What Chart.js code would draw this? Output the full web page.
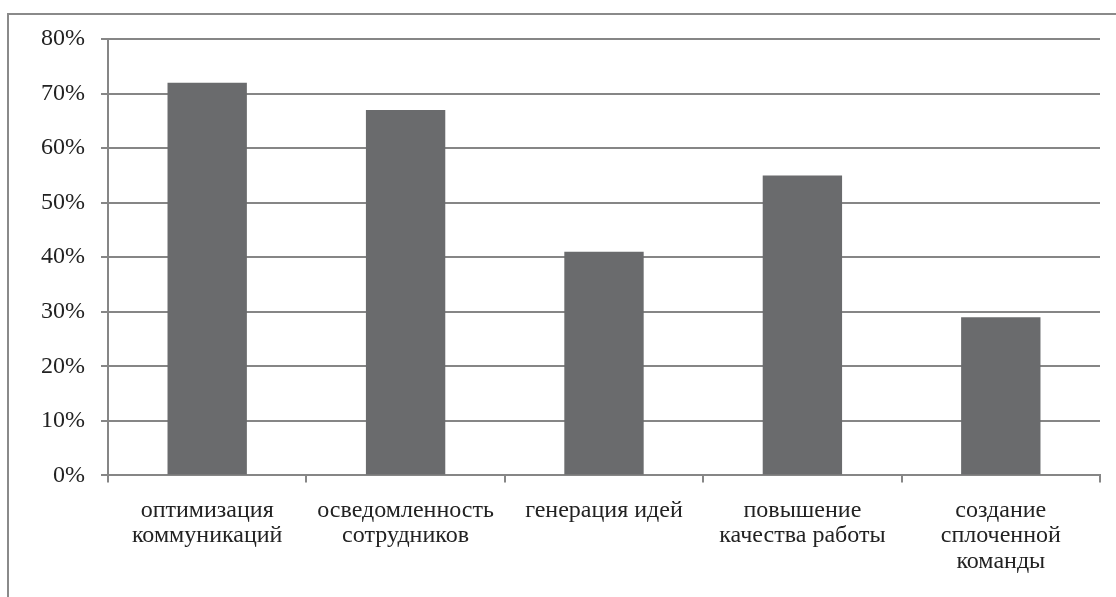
<!DOCTYPE html>
<html>
<head>
<meta charset="utf-8">
<script src="https://cdn.jsdelivr.net/npm/chart.js@4/dist/chart.umd.min.js"></script>
<style>
  html, body { margin: 0; padding: 0; background: #fff; }
  #wrap { position: absolute; left: 0; top: 0; width: 1116px; height: 597px; }
</style>
</head>
<body>
<div id="wrap"><canvas id="myChart" width="1116" height="597"></canvas></div>
<script>
// categories and values
let categories = [
  ['оптимизация', 'коммуникаций'],
  ['осведомленность', 'сотрудников'],
  ['генерация идей'],
  ['повышение', 'качества работы'],
  ['создание', 'сплоченной', 'команды']
];
let shares = [72, 67, 41, 55, 29];
let yTicks = [0, 10, 20, 30, 40, 50, 60, 70, 80];

// grey frame round the picture (left and top edges only are visible)
let framePlugin = {
  id: 'frame',
  beforeDraw(chart) {
    let ctx = chart.ctx;
    ctx.save();
    ctx.strokeStyle = '#8a8a8a';
    ctx.lineWidth = 2;
    ctx.beginPath();
    ctx.moveTo(8, 597);
    ctx.lineTo(8, 14);
    ctx.lineTo(1116, 14);
    ctx.stroke();
    ctx.restore();
  }
};

let serif = '"Liberation Serif", "Times New Roman", serif';

let ctx = document.getElementById('myChart').getContext('2d');
window.chart = new Chart(ctx, {
  type: 'bar',
  data: {
    labels: categories,
    datasets: [{
      data: shares,
      backgroundColor: '#6a6b6d',
      borderWidth: 0,
      categoryPercentage: 1,
      barPercentage: 0.4
    }]
  },
  options: {
    responsive: false,
    animation: false,
    layout: { padding: { left: 25, right: 16, top: 39, bottom: 7 } },
    plugins: { legend: { display: false }, tooltip: { enabled: false } },
    scales: {
      x: {
        offset: true,
        grid: {
          offset: true,
          drawOnChartArea: false,
          drawTicks: true,
          tickLength: 7,
          color: '#868686',
          lineWidth: 2
        },
        border: { color: '#868686', width: 2 },
        ticks: {
          color: '#222',
          padding: 16,
          maxRotation: 0,
          autoSkip: false,
          font: { family: serif, size: 24, lineHeight: 1.05 }
        }
      },
      y: {
        min: 0,
        max: 80,
        afterBuildTicks(axis) { axis.ticks = yTicks.map(v => ({ value: v })); },
        grid: {
          color: '#868686',
          lineWidth: 2,
          drawTicks: true,
          tickLength: 7
        },
        border: { color: '#868686', width: 2 },
        ticks: {
          color: '#222',
          padding: 16,
          callback: v => v + '%',
          font: { family: serif, size: 24 }
        }
      }
    }
  },
  plugins: [framePlugin]
});
</script>
</body>
</html>
